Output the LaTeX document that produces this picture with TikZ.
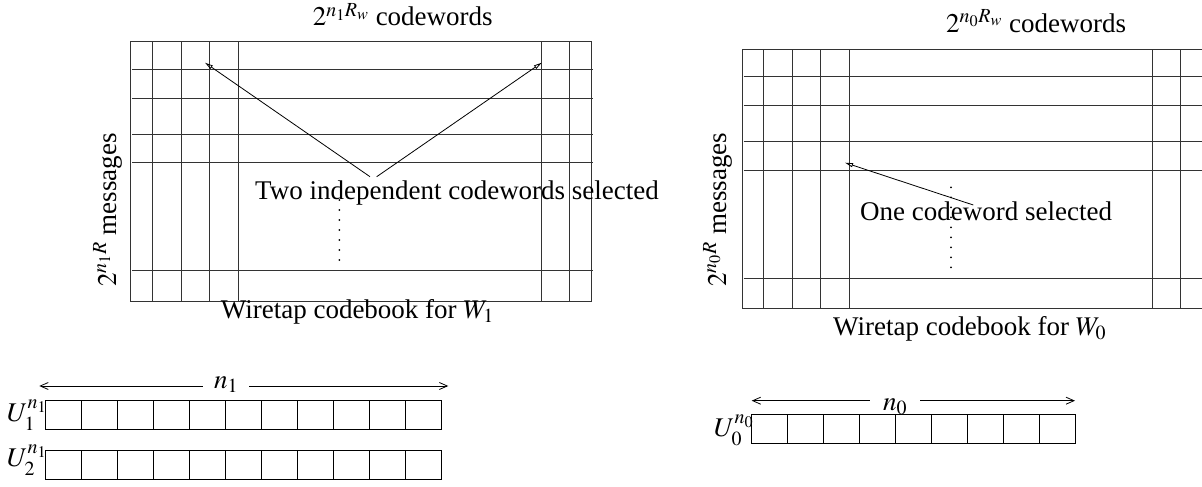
\documentclass[tikz,border=0pt]{standalone}
\usepackage{mathptmx}
\usepackage[no-math]{fontspec}
\setmainfont{Liberation Serif}
\usetikzlibrary{arrows.meta}

\begin{document}
\begin{tikzpicture}[x=1pt,y=-1pt,
    font=\fontsize{27}{32}\selectfont,
    every node/.style={inner sep=0pt},
    grid/.style={draw=black!80, line width=0.9pt},
    cellbox/.style={draw, line width=0.9pt, minimum width=36pt, minimum height=28.3pt},
    pick/.style={-{Triangle[open,length=8pt,width=4pt]}, line width=0.8pt},
    span/.style={-{Straight Barb[length=8pt,width=7pt]}, line width=0.8pt},
  ]
  \useasboundingbox (0,0) rectangle (1202,487);

  % the two codebooks, same grid
  \foreach \bx/\by in {130.7/41.7, 742.3/49.3} {
    \begin{scope}[shift={(\bx,\by)}]
      \draw[grid] (0,0) rectangle (461,259.3);
      \foreach \cx in {21.3,50.3,78.6,107.6,410.3,438.6}
        \draw[grid] (\cx,0) -- (\cx,259.3);
      \foreach \cy in {27.6,56.6,92.3,121,229}
        \draw[grid] (1.3,\cy) -- (462,\cy);
    \end{scope}
  }

  % codebook for W1
  \node[anchor=base west] (cw1) at (312.7,26) {$2^{n_1R_w}$ codewords};
  \node[anchor=base west, rotate=90] (msg1) at (116,287) {$2^{n_1R}$ messages};
  \node[anchor=base west] (wt1) at (220.7,318.3) {Wiretap codebook for $W_1$};
  \node[anchor=base west] (sel1) at (255,199) {Two independent codewords selected};
  \foreach \i in {0,...,6}
    \fill (339.3,{200+10*\i}) circle (1pt);
  \coordinate (from1a) at (370,176.7);
  \coordinate (from1b) at (376.7,176.7);
  \coordinate (tip1a) at (205,62.7);
  \coordinate (tip1b) at (541.7,62.7);
  \draw[pick] (from1a) -- (tip1a);
  \draw[pick] (from1b) -- (tip1b);

  % codebook for W0
  \node[anchor=base west] (cw0) at (946,32.3) {$2^{n_0R_w}$ codewords};
  \node[anchor=base west, rotate=90] (msg0) at (726,286.7) {$2^{n_0R}$ messages};
  \node[anchor=base west] (wt0) at (833,335) {Wiretap codebook for $W_0$};
  \node[anchor=base west] (sel0) at (860,220) {One codeword selected};
  \foreach \i in {0,...,8}
    \fill (951,{187.3+10*\i}) circle (1pt);
  \coordinate (from0) at (973.3,205);
  \coordinate (tip0) at (845,162.7);
  \draw[pick] (from0) -- (tip0);

  % the sequences U1, U2
  \foreach \i in {0,...,10} {
    \node[cellbox] (ua\i) at ({63.3+36.04*\i},414.85) {};
    \node[cellbox] (ub\i) at ({63.3+36.04*\i},464.85) {};
  }
  \node[anchor=base east] (lu1) at (47,421.7) {$U_1^{n_1}$};
  \node[anchor=base east] (lu2) at (47,466.7) {$U_2^{n_1}$};
  \node[anchor=base, inner xsep=11pt] (n1) at (226,388.3) {$n_1$};
  \coordinate (n1l) at (39.3,386);
  \coordinate (n1r) at (448.3,386);
  \draw[span] (n1.west |- n1l) -- (n1l);
  \draw[span] (n1.east |- n1r) -- (n1r);

  % the sequence U0
  \foreach \i in {0,...,8}
    \node[cellbox, minimum height=29pt] (uc\i) at ({769.7+36*\i},428.8) {};
  \node[anchor=base east] (lu0) at (754,436.7) {$U_0^{n_0}$};
  \node[anchor=base, inner xsep=13pt] (n0) at (895,410.7) {$n_0$};
  \coordinate (n0l) at (751.7,400.7);
  \coordinate (n0r) at (1075,400.7);
  \draw[span] (n0.west |- n0l) -- (n0l);
  \draw[span] (n0.east |- n0r) -- (n0r);
\end{tikzpicture}
\end{document}
